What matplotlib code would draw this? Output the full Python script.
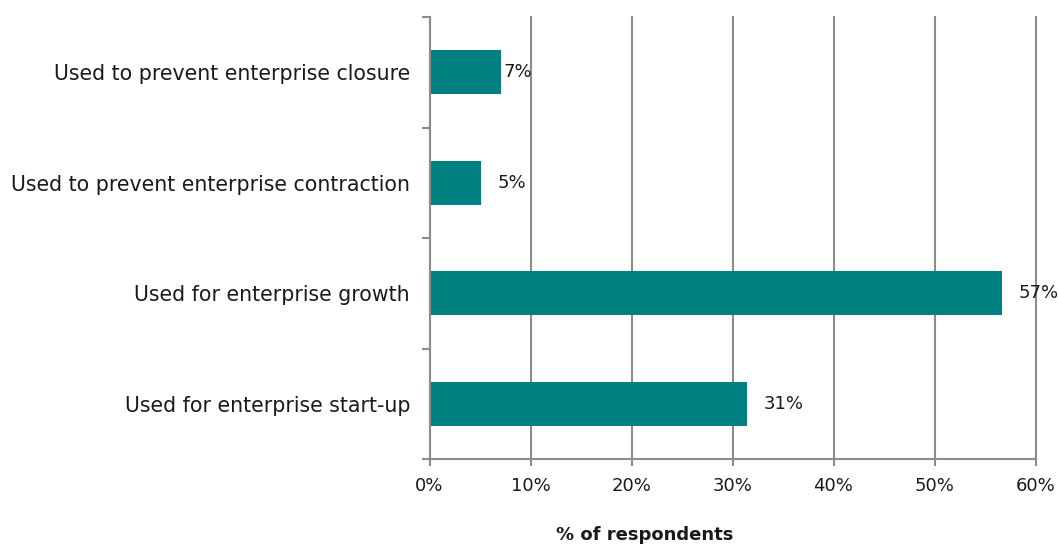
import matplotlib
matplotlib.use("Agg")
import matplotlib.pyplot as plt
import numpy as np

categories = ["Used to prevent enterprise closure",
              "Used to prevent enterprise contraction",
              "Used for enterprise growth",
              "Used for enterprise start-up"]
values = [7.1, 5.05, 56.7, 31.4]
labels = ["7%", "5%", "57%", "31%"]
xticks = [0, 10, 20, 30, 40, 50, 60]
xticklabels = ["0%", "10%", "20%", "30%", "40%", "50%", "60%"]

plt.rcParams['font.family'] = ['DejaVu Sans']
W, H = 1058, 544
fig = plt.figure(figsize=(W/100, H/100), dpi=100)
ax = fig.add_axes([429.5/W, 1 - 459/H, (1035.5-429.5)/W, (459-17)/H])

grid_c = "#8c8c8c"
txt_c = "#1a1a1a"
y = np.arange(len(categories))
ax.barh(y, values, height=0.4, color="#008080", zorder=3)
ax.set_ylim(len(categories) - 0.5, -0.5)
ax.set_xlim(0, 60)
ax.set_xticks(xticks)
ax.set_xticklabels(xticklabels, fontsize=13, color=txt_c)
ax.set_yticks(y)
ax.set_yticklabels(categories, fontsize=14.8, color=txt_c)
ax.set_yticks(np.arange(len(categories) + 1) - 0.5, minor=True)
ax.tick_params(axis='y', which='major', length=0, pad=14)
ax.tick_params(axis='y', which='minor', length=6, width=1.5, color=grid_c)
ax.tick_params(axis='x', which='major', length=5, width=1.5, color=grid_c, pad=8)
ax.grid(axis='x', color=grid_c, linewidth=1.5, zorder=0)
for gl in ax.get_xgridlines():
    gl.set_clip_on(False)
for s in ["top", "right"]:
    ax.spines[s].set_visible(False)
for s in ["left", "bottom"]:
    ax.spines[s].set_color(grid_c)
    ax.spines[s].set_linewidth(1.5)
ax.spines["left"].set_zorder(4)

offsets = [1.5, 12, 12, 12]
for yi, v, lab, off in zip(y, values, labels, offsets):
    ax.annotate(lab, (v, yi), xytext=(off, 0), textcoords='offset points',
                va='center', ha='left', fontsize=13, color=txt_c, zorder=5,
                annotation_clip=False)

fig.text(645/W, 1 - 535/H, "% of respondents", ha='center', va='center',
         fontsize=13, fontweight='bold', color=txt_c)

fig.savefig("out.png", dpi=100)
